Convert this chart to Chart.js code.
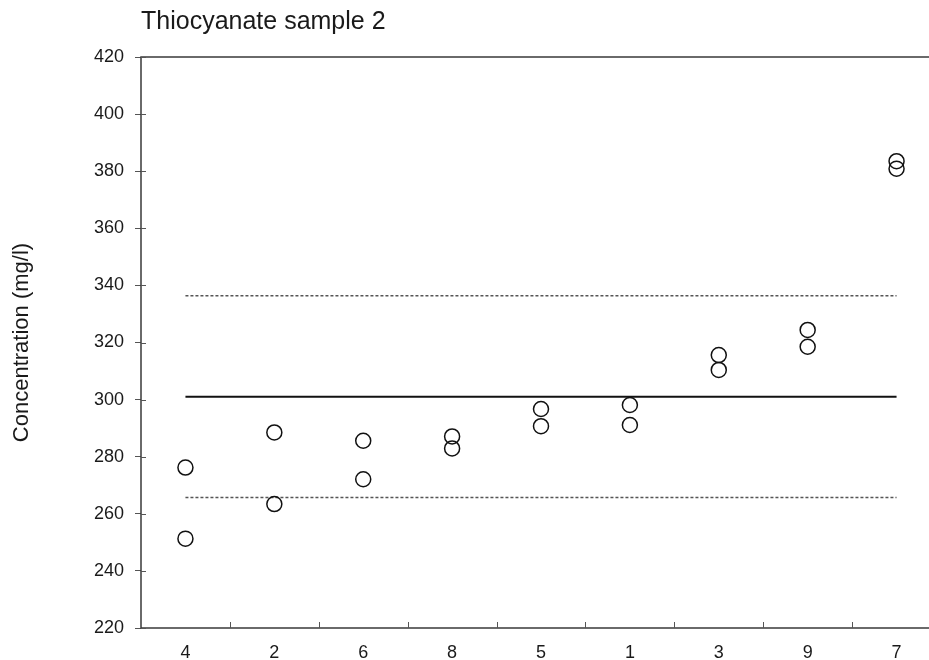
<!DOCTYPE html>
<html>
<head>
<meta charset="utf-8">
<script src="https://cdn.jsdelivr.net/npm/chart.js@4.4.1/dist/chart.umd.min.js"></script>
<style>
  html, body { margin: 0; padding: 0; background: #fff; overflow: hidden; }
  #wrap { position: relative; width: 950px; height: 660px; }
</style>
</head>
<body>
<div id="wrap"><canvas id="c"></canvas></div>
<script>
// ---- data ----
const labs = ['4', '2', '6', '8', '5', '1', '3', '9', '7'];
const replicate1 = [276.2, 288.5, 285.6, 287.1, 296.7, 298.1, 315.6, 324.4, 383.5];
const replicate2 = [251.3, 263.4, 272.1, 282.9, 290.7, 291.1, 310.4, 318.5, 380.9];
const assignedValue = 301.0;
const upperLimit = 336.4;
const lowerLimit = 265.7;
const yTicks = [220, 240, 260, 280, 300, 320, 340, 360, 380, 400, 420];

const FONT = "'Liberation Sans', Arial, sans-serif";
const AXIS_COLOR = '#3a3a3a';

const framePlugin = {
  id: 'frame',
  afterDraw(chart) {
    const ctx = chart.ctx;
    const a = chart.chartArea;
    const x = chart.scales.x, y = chart.scales.y;
    ctx.save();
    ctx.strokeStyle = AXIS_COLOR;
    ctx.lineWidth = 1.5;
    ctx.beginPath();
    ctx.moveTo(a.left, a.top); ctx.lineTo(a.right + 2, a.top);
    ctx.moveTo(a.left, a.top - 0.75); ctx.lineTo(a.left, a.bottom);
    ctx.lineTo(a.right + 2, a.bottom);
    ctx.stroke();
    // inward y ticks
    ctx.lineWidth = 1;
    ctx.strokeStyle = '#555';
    ctx.beginPath();
    yTicks.forEach(v => {
      const py = Math.round(y.getPixelForValue(v)) + 0.5;
      ctx.moveTo(a.left, py); ctx.lineTo(a.left + 5, py);
    });
    // inward x ticks between categories
    for (let i = 0; i < labs.length - 1; i++) {
      const px = Math.round((x.getPixelForValue(i) + x.getPixelForValue(i + 1)) / 2) + 0.5;
      ctx.moveTo(px, a.bottom); ctx.lineTo(px, a.bottom - 6);
    }
    ctx.stroke();
    ctx.restore();
  }
};

const ptStyle = {
  type: 'line', showLine: false, pointStyle: 'circle', pointRadius: 7.5, pointHoverRadius: 7.5,
  pointBorderWidth: 1.5, pointBorderColor: '#111', pointBackgroundColor: 'rgba(0,0,0,0)'
};

new Chart(document.getElementById('c'), {
  type: 'line',
  data: {
    labels: labs,
    datasets: [
      { label: 'Mean', data: labs.map(() => assignedValue), borderColor: '#111', borderWidth: 2.2, pointRadius: 0, fill: false, order: 3 },
      { label: 'Upper', data: labs.map(() => upperLimit), borderColor: '#555', borderWidth: 1.5, borderDash: [3, 2], pointRadius: 0, fill: false, order: 3 },
      { label: 'Lower', data: labs.map(() => lowerLimit), borderColor: '#555', borderWidth: 1.5, borderDash: [3, 2], pointRadius: 0, fill: false, order: 3 },
      Object.assign({ label: 'Replicate 1', data: replicate1, order: 1 }, ptStyle),
      Object.assign({ label: 'Replicate 2', data: replicate2, order: 1 }, ptStyle)
    ]
  },
  options: {
    responsive: true,
    maintainAspectRatio: false,
    animation: false,
    layout: { padding: { left: 0, right: 0, top: 0, bottom: 0 } },
    plugins: {
      legend: { display: false },
      tooltip: { enabled: false },
      title: {
        display: true,
        text: 'Thiocyanate sample 2',
        align: 'start',
        fullSize: false,
        color: '#1a1a1a',
        font: { family: FONT, size: 25, weight: 'normal', lineHeight: 1.2 },
        padding: { top: 7, bottom: 20 }
      }
    },
    scales: {
      x: {
        type: 'category',
        offset: true,
        grid: { display: false, drawTicks: false, drawOnChartArea: false },
        border: { display: false },
        ticks: { color: '#1a1a1a', font: { family: FONT, size: 18 }, padding: 14, maxRotation: 0, autoSkip: false },
        afterFit(s) { s.height = 32; }
      },
      y: {
        min: 220, max: 420,
        afterBuildTicks(s) { s.ticks = yTicks.map(v => ({ value: v })); },
        grid: { drawOnChartArea: false, drawTicks: true, tickLength: 6, color: '#555', lineWidth: 1 },
        border: { display: false },
        ticks: { color: '#1a1a1a', font: { family: FONT, size: 18 }, padding: 11 },
        title: {
          display: true,
          text: 'Concentration (mg/l)',
          color: '#1a1a1a',
          font: { family: FONT, size: 22, weight: 'normal', lineHeight: 1.2 },
          padding: { top: 9, bottom: 0 }
        },
        afterFit(s) { s.width = 141; }
      }
    }
  },
  plugins: [framePlugin]
});
</script>
</body>
</html>
